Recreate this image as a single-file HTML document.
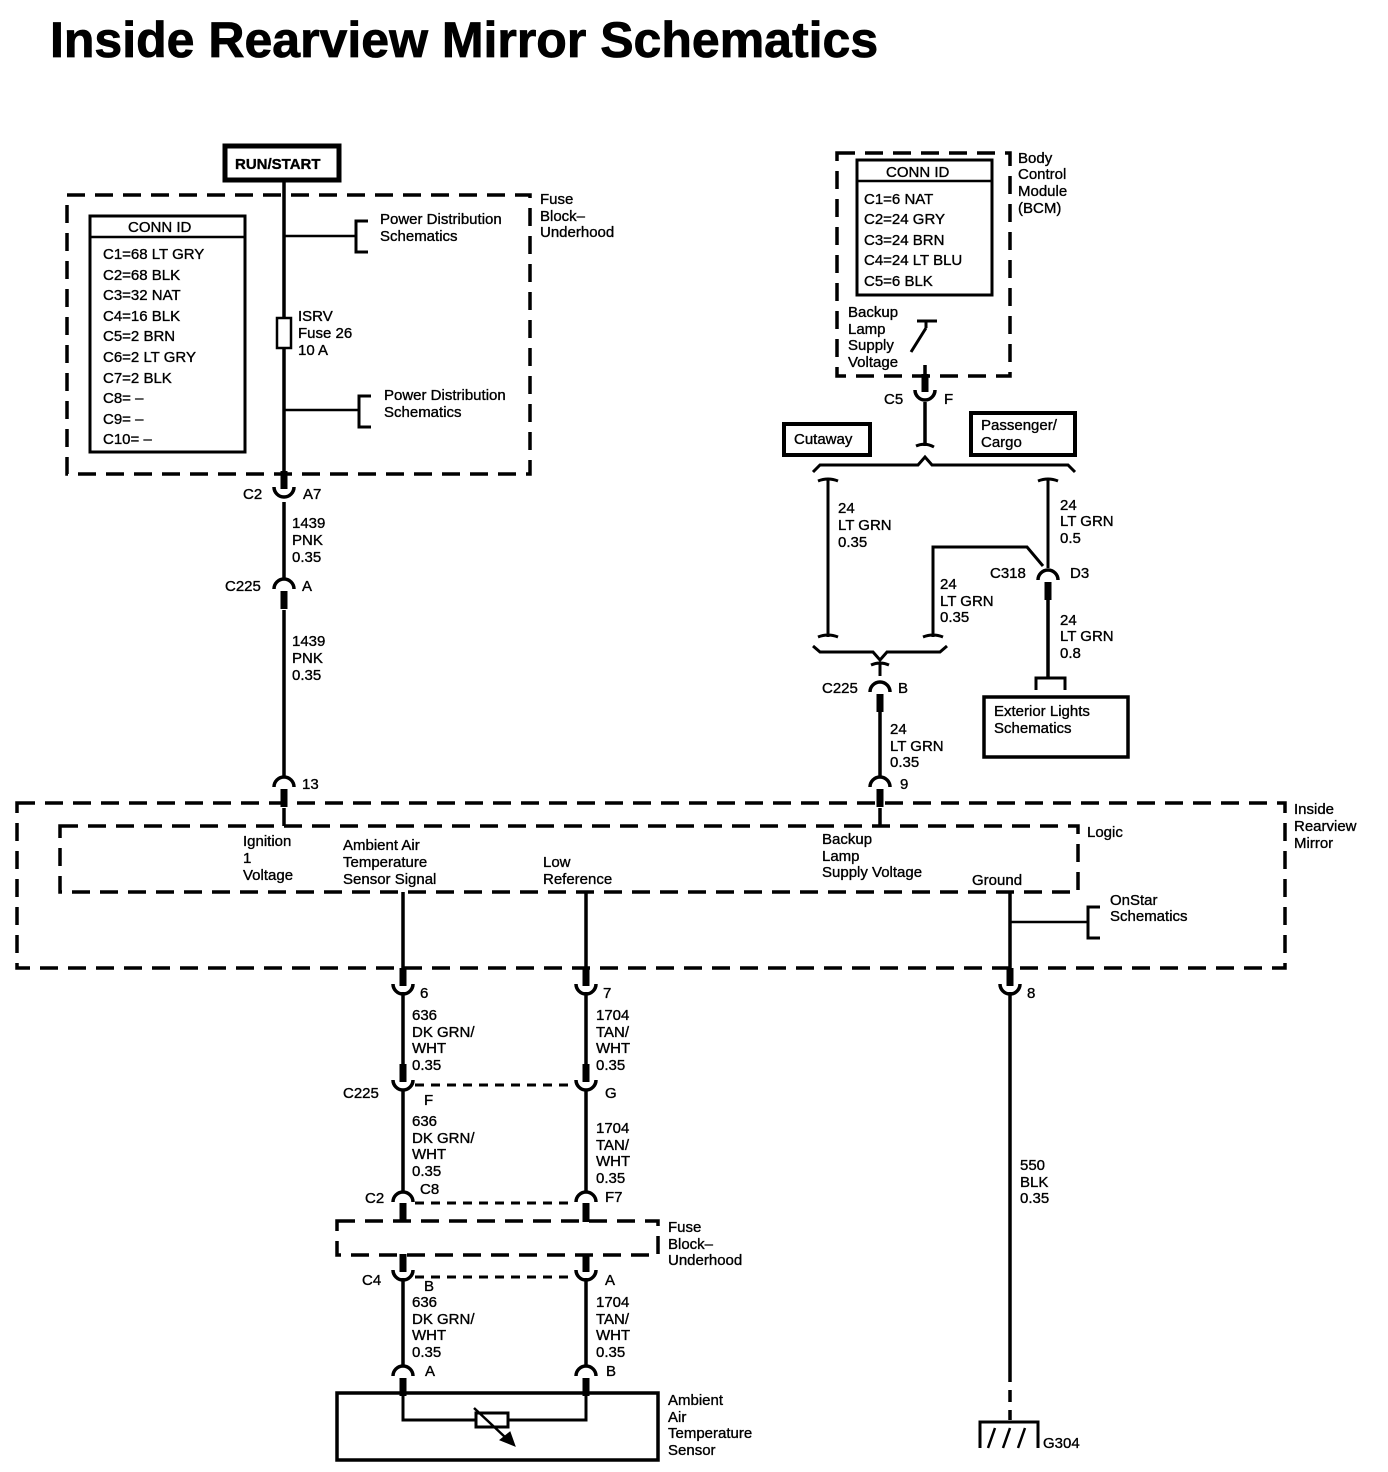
<!DOCTYPE html>
<html><head><meta charset="utf-8"><style>
html,body{margin:0;padding:0;background:#fff}
svg{display:block}
text{font-family:"Liberation Sans",Arial,sans-serif;font-size:15px;fill:#000;stroke:#000;stroke-width:0.35}
.b{font-weight:bold}
</style></head><body>
<svg width="1388" height="1472" viewBox="0 0 1388 1472" xmlns="http://www.w3.org/2000/svg">
<defs>
<g id="cupU"><path d="M-10,-6 A10,10 0 0 0 10,-6" fill="none" stroke="#000" stroke-width="3.5"/><rect x="-3.5" y="-22" width="7" height="18" fill="#000"/></g>
<g id="cupD"><path d="M-10,6 A10,10 0 0 1 10,6" fill="none" stroke="#000" stroke-width="3.5"/><rect x="-3.5" y="8" width="7" height="18" fill="#000"/></g>
</defs>
<text x="50" y="57" class="b" style="font-size:50px;stroke-width:0.8">Inside Rearview Mirror Schematics</text>

<g fill="none" stroke="#000">
<rect x="225" y="146" width="114" height="34" stroke-width="5"/>
<rect x="67" y="195" width="463" height="279" stroke-width="3.5" stroke-dasharray="18,10"/>
<rect x="90" y="216" width="155" height="236" stroke-width="3"/>
<line x1="90" y1="237" x2="245" y2="237" stroke-width="2.5"/>
<line x1="284" y1="180" x2="284" y2="478" stroke-width="3.5"/>
<line x1="284" y1="236" x2="355" y2="236" stroke-width="2.5"/>
<path d="M368,221 H356 V252 H368" stroke-width="3"/>
<line x1="284" y1="410" x2="358" y2="410" stroke-width="2.5"/>
<path d="M371,396 H359 V427 H371" stroke-width="3"/>
<rect x="277" y="318" width="14" height="30" fill="#fff" stroke-width="2.5"/>
<line x1="284" y1="502" x2="284" y2="580" stroke-width="3.5"/>
<line x1="284" y1="610" x2="284" y2="778" stroke-width="3.5"/>
<rect x="17" y="803" width="1268" height="165" stroke-width="3.5" stroke-dasharray="18,10"/>
<rect x="60" y="826" width="1018" height="66" stroke-width="3.5" stroke-dasharray="18,10"/>
<line x1="284" y1="808" x2="284" y2="826" stroke-width="3.5"/>
<line x1="880" y1="808" x2="880" y2="826" stroke-width="3.5"/>
<line x1="403" y1="892" x2="403" y2="985" stroke-width="3.5"/>
<line x1="586" y1="892" x2="586" y2="985" stroke-width="3.5"/>
<line x1="1010" y1="892" x2="1010" y2="985" stroke-width="3.5"/>
<line x1="1010" y1="922" x2="1087" y2="922" stroke-width="2.5"/>
<path d="M1100,907 H1088 V938 H1100" stroke-width="3"/>
<line x1="403" y1="992" x2="403" y2="1068" stroke-width="3.5"/>
<line x1="586" y1="992" x2="586" y2="1068" stroke-width="3.5"/>
<line x1="403" y1="1090" x2="403" y2="1192" stroke-width="3.5"/>
<line x1="586" y1="1090" x2="586" y2="1192" stroke-width="3.5"/>
<line x1="415" y1="1085" x2="574" y2="1085" stroke-width="3" stroke-dasharray="9,7"/>
<line x1="415" y1="1203" x2="574" y2="1203" stroke-width="3" stroke-dasharray="9,7"/>
<line x1="403" y1="1203" x2="403" y2="1221" stroke-width="7"/>
<line x1="586" y1="1203" x2="586" y2="1221" stroke-width="7"/>
<rect x="337" y="1221" width="321" height="34" stroke-width="3.5" stroke-dasharray="18,10"/>
<line x1="403" y1="1255" x2="403" y2="1262" stroke-width="7"/>
<line x1="586" y1="1255" x2="586" y2="1262" stroke-width="7"/>
<line x1="415" y1="1277" x2="574" y2="1277" stroke-width="3" stroke-dasharray="9,7"/>
<line x1="403" y1="1278" x2="403" y2="1366" stroke-width="3.5"/>
<line x1="586" y1="1278" x2="586" y2="1366" stroke-width="3.5"/>
<rect x="337" y="1393" width="321" height="67" stroke-width="3.5"/>
<path d="M403,1393 V1420 H476 M508,1420 H586 V1393" stroke-width="3"/>
<rect x="476" y="1413" width="32" height="14" stroke-width="3"/>
<line x1="474" y1="1408" x2="506" y2="1438" stroke-width="2.5"/>
<path d="M515,1446 L500,1440 L510,1432 Z" fill="#000" stroke-width="1"/>
<line x1="1010" y1="992" x2="1010" y2="1370" stroke-width="3.5"/>
<line x1="1010" y1="1370" x2="1010" y2="1420" stroke-width="3.5" stroke-dasharray="12,8"/>
<path d="M980,1448 V1422 H1038 V1448" stroke-width="3"/>
<path d="M995,1428 L988,1448 M1010,1428 L1003,1448 M1025,1428 L1018,1448" stroke-width="2.5"/>
<rect x="837" y="153" width="173" height="223" stroke-width="3.5" stroke-dasharray="18,10"/>
<rect x="857" y="160" width="135" height="135" stroke-width="3"/>
<line x1="857" y1="181" x2="992" y2="181" stroke-width="2.5"/>
<path d="M917,321 H937 M926,321 V328 M926,328 L911,352" stroke-width="3"/>
<line x1="925" y1="365" x2="925" y2="386" stroke-width="3.5"/>
<line x1="925" y1="402" x2="925" y2="446" stroke-width="3.5"/>
<path d="M916,446 Q925,442 934,447" stroke-width="3"/>
<path d="M813,472 L820,465 H918 L925,457 L932,465 H1068 L1075,472" stroke-width="3"/>
<rect x="784" y="424" width="86" height="31" stroke-width="4"/>
<rect x="971" y="413" width="104" height="42" stroke-width="4"/>
<path d="M818,481 Q828,477 838,481 M828,480 V637 M818,637 Q828,633 838,637" stroke-width="3"/>
<path d="M1038,481 Q1048,477 1058,481 M1048,480 V568" stroke-width="3"/>
<path d="M1043,566 L1027,547 H933 V637 M923,637 Q933,633 943,637" stroke-width="3"/>
<path d="M813,646 L820,652 H873 L880,660 L887,652 H940 L947,646" stroke-width="3"/>
<path d="M871,665 Q880,661 889,665 M880,664 V676" stroke-width="3"/>
<line x1="880" y1="710" x2="880" y2="778" stroke-width="3.5"/>
<line x1="1048" y1="600" x2="1048" y2="678" stroke-width="3.5"/>
<path d="M1036,690 V678 H1065 V690" stroke-width="3"/>
<rect x="984" y="697" width="144" height="60" stroke-width="3.5"/>
</g>

<use href="#cupU" x="284" y="493"/>
<use href="#cupD" x="284" y="583"/>
<use href="#cupD" x="284" y="781"/>
<use href="#cupU" x="925" y="396"/>
<use href="#cupD" x="1048" y="574"/>
<use href="#cupD" x="880" y="686"/>
<use href="#cupD" x="880" y="781"/>
<use href="#cupU" x="403" y="990"/>
<use href="#cupU" x="586" y="990"/>
<use href="#cupU" x="1010" y="990"/>
<use href="#cupU" x="403" y="1086"/>
<use href="#cupU" x="586" y="1086"/>
<use href="#cupD" x="403" y="1196"/>
<use href="#cupD" x="586" y="1196"/>
<use href="#cupU" x="403" y="1276"/>
<use href="#cupU" x="586" y="1276"/>
<use href="#cupD" x="403" y="1370"/>
<use href="#cupD" x="586" y="1370"/>

<text x="235" y="169" class="b">RUN/START</text>
<text x="540" y="204">Fuse</text><text x="540" y="221">Block–</text><text x="540" y="237">Underhood</text>
<text x="128" y="232">CONN ID</text>
<g style="font-size:16px">
<text x="103" y="259">C1=68 LT GRY</text><text x="103" y="280">C2=68 BLK</text><text x="103" y="300">C3=32 NAT</text><text x="103" y="321">C4=16 BLK</text><text x="103" y="341">C5=2 BRN</text><text x="103" y="362">C6=2 LT GRY</text><text x="103" y="383">C7=2 BLK</text><text x="103" y="403">C8= –</text><text x="103" y="424">C9= –</text><text x="103" y="444">C10= –</text>
</g>
<text x="380" y="224">Power Distribution</text><text x="380" y="241">Schematics</text>
<text x="384" y="400">Power Distribution</text><text x="384" y="417">Schematics</text>
<text x="298" y="321">ISRV</text><text x="298" y="338">Fuse 26</text><text x="298" y="355">10 A</text>
<text x="243" y="499">C2</text><text x="303" y="499">A7</text>
<text x="292" y="528">1439</text><text x="292" y="545">PNK</text><text x="292" y="562">0.35</text>
<text x="225" y="591">C225</text><text x="302" y="591">A</text>
<text x="292" y="646">1439</text><text x="292" y="663">PNK</text><text x="292" y="680">0.35</text>
<text x="302" y="789">13</text>
<text x="1294" y="814">Inside</text><text x="1294" y="831">Rearview</text><text x="1294" y="848">Mirror</text>
<text x="1087" y="837">Logic</text>
<text x="243" y="846">Ignition</text><text x="243" y="863">1</text><text x="243" y="880">Voltage</text>
<text x="343" y="850">Ambient Air</text><text x="343" y="867">Temperature</text><text x="343" y="884">Sensor Signal</text>
<text x="543" y="867">Low</text><text x="543" y="884">Reference</text>
<text x="822" y="844">Backup</text><text x="822" y="861">Lamp</text><text x="822" y="877">Supply Voltage</text>
<text x="972" y="885">Ground</text>
<text x="1110" y="905">OnStar</text><text x="1110" y="921">Schematics</text>
<text x="420" y="998">6</text><text x="603" y="998">7</text><text x="1027" y="998">8</text>
<text x="412" y="1020">636</text><text x="412" y="1037">DK GRN/</text><text x="412" y="1053">WHT</text><text x="412" y="1070">0.35</text>
<text x="596" y="1020">1704</text><text x="596" y="1037">TAN/</text><text x="596" y="1053">WHT</text><text x="596" y="1070">0.35</text>
<text x="343" y="1098">C225</text><text x="424" y="1105">F</text><text x="605" y="1098">G</text>
<text x="412" y="1126">636</text><text x="412" y="1143">DK GRN/</text><text x="412" y="1159">WHT</text><text x="412" y="1176">0.35</text>
<text x="596" y="1133">1704</text><text x="596" y="1150">TAN/</text><text x="596" y="1166">WHT</text><text x="596" y="1183">0.35</text>
<text x="365" y="1203">C2</text><text x="420" y="1194">C8</text><text x="605" y="1202">F7</text>
<text x="668" y="1232">Fuse</text><text x="668" y="1249">Block–</text><text x="668" y="1265">Underhood</text>
<text x="362" y="1285">C4</text><text x="424" y="1291">B</text><text x="605" y="1285">A</text>
<text x="412" y="1307">636</text><text x="412" y="1324">DK GRN/</text><text x="412" y="1340">WHT</text><text x="412" y="1357">0.35</text>
<text x="596" y="1307">1704</text><text x="596" y="1324">TAN/</text><text x="596" y="1340">WHT</text><text x="596" y="1357">0.35</text>
<text x="425" y="1376">A</text><text x="606" y="1376">B</text>
<text x="668" y="1405">Ambient</text><text x="668" y="1422">Air</text><text x="668" y="1438">Temperature</text><text x="668" y="1455">Sensor</text>
<text x="1020" y="1170">550</text><text x="1020" y="1187">BLK</text><text x="1020" y="1203">0.35</text>
<text x="1043" y="1448">G304</text>
<text x="1018" y="163">Body</text><text x="1018" y="179">Control</text><text x="1018" y="196">Module</text><text x="1018" y="213">(BCM)</text>
<text x="886" y="177">CONN ID</text>
<g style="font-size:16px">
<text x="864" y="204">C1=6 NAT</text><text x="864" y="224">C2=24 GRY</text><text x="864" y="245">C3=24 BRN</text><text x="864" y="265">C4=24 LT BLU</text><text x="864" y="286">C5=6 BLK</text>
</g>
<text x="848" y="317">Backup</text><text x="848" y="334">Lamp</text><text x="848" y="350">Supply</text><text x="848" y="367">Voltage</text>
<text x="884" y="404">C5</text><text x="944" y="404">F</text>
<text x="794" y="444">Cutaway</text>
<text x="981" y="430">Passenger/</text><text x="981" y="447">Cargo</text>
<text x="838" y="513">24</text><text x="838" y="530">LT GRN</text><text x="838" y="547">0.35</text>
<text x="1060" y="510">24</text><text x="1060" y="526">LT GRN</text><text x="1060" y="543">0.5</text>
<text x="990" y="578">C318</text><text x="1070" y="578">D3</text>
<text x="940" y="589">24</text><text x="940" y="606">LT GRN</text><text x="940" y="622">0.35</text>
<text x="1060" y="625">24</text><text x="1060" y="641">LT GRN</text><text x="1060" y="658">0.8</text>
<text x="822" y="693">C225</text><text x="898" y="693">B</text>
<text x="890" y="734">24</text><text x="890" y="751">LT GRN</text><text x="890" y="767">0.35</text>
<text x="900" y="789">9</text>
<text x="994" y="716">Exterior Lights</text><text x="994" y="733">Schematics</text>
</svg>
</body></html>
